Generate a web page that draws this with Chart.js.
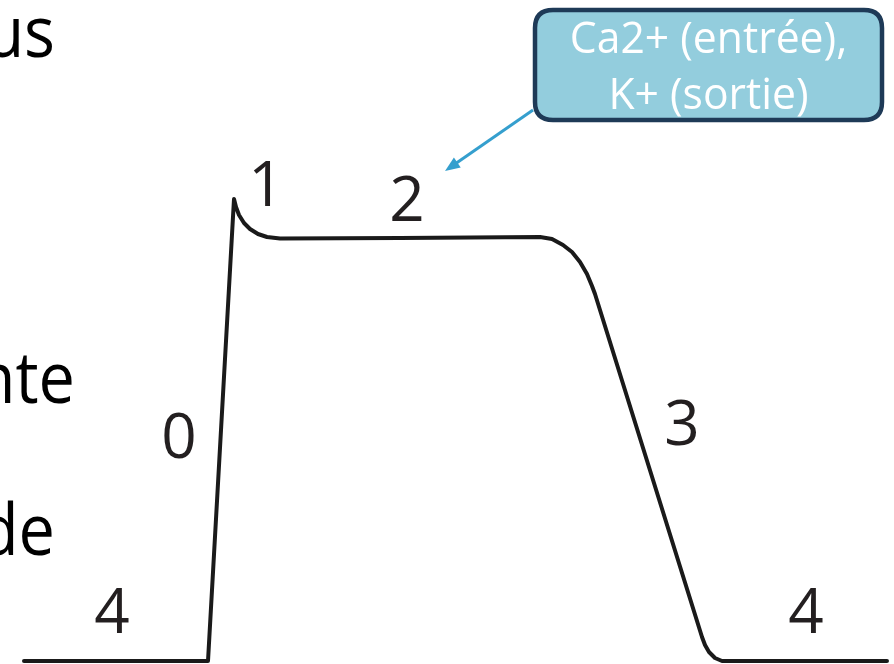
<!DOCTYPE html>
<html>
<head>
<meta charset="utf-8">
<script src="https://cdn.jsdelivr.net/npm/chart.js@4.4.1/dist/chart.umd.min.js"></script>
<style>
  html, body { margin: 0; padding: 0; background: #fff; }
  #wrap { width: 894px; height: 664px; position: relative; }
</style>
</head>
<body>
<div id="wrap"><canvas id="apChart" width="894" height="664"></canvas></div>
<script>
// potentiel d'action cardiaque (schéma) : temps en ms, potentiel en mV
const times = [-92, 0, 13, 14, 15.5, 18, 21, 25, 29.5, 36, 96, 166, 172, 177.5, 182, 186, 189.5, 192, 193.5, 247, 248.5, 250.5, 253.5, 257, 339.5];
const potentials = [-90, -90, 25.5, 23.5, 21.5, 19.5, 18, 16.75, 16, 15.6, 15.75, 16, 15.5, 14, 12.25, 9.75, 6.75, 3.75, 1.75, -84, -86, -87.75, -89.25, -90, -90];

const phaseNames = ['4', '0', '1', '2', '3', '4'];
const calloutLines = ['Ca2+ (entrée),', 'K+ (sortie)'];
const slideFragments = ['us', 'nte', 'de'];

// placement of the annotations (data units for phases, pixels for slide text/box)
const phaseAnchors = [
    { t: -48, v: -77.75 },
    { t: -14.5, v: -34 },
    { t: 29, v: 29 },
    { t: 99.5, v: 25.25 },
    { t: 237, v: -30.75 },
    { t: 299, v: -77.75 }
];
const fragmentPos = [
    { right: 55, base: 57 },
    { right: 75, base: 403 },
    { right: 55, base: 555 }
];
const calloutBox = { x: 535, y: 10, w: 347, h: 110, r: 18 };
const arrowTip = { t: 118.5, v: 32.5 };

function roundRect(ctx, x, y, w, h, r) {
    ctx.beginPath();
    ctx.moveTo(x + r, y);
    ctx.lineTo(x + w - r, y);
    ctx.quadraticCurveTo(x + w, y, x + w, y + r);
    ctx.lineTo(x + w, y + h - r);
    ctx.quadraticCurveTo(x + w, y + h, x + w - r, y + h);
    ctx.lineTo(x + r, y + h);
    ctx.quadraticCurveTo(x, y + h, x, y + h - r);
    ctx.lineTo(x, y + r);
    ctx.quadraticCurveTo(x, y, x + r, y);
    ctx.closePath();
}

const diagramText = {
    id: 'diagramText',
    afterDatasetsDraw(chart) {
        const ctx = chart.ctx;
        const xs = chart.scales.x;
        const ys = chart.scales.y;
        ctx.save();

        // bits of the slide text cut by the left edge
        ctx.fillStyle = '#000';
        ctx.font = '72px "Open Sans", "Noto Sans", sans-serif';
        ctx.textAlign = 'right';
        ctx.textBaseline = 'alphabetic';
        slideFragments.forEach((s, i) => {
            const p = fragmentPos[i];
            ctx.save();
            ctx.translate(p.right, p.base);
            ctx.scale(0.9, 1);
            ctx.fillText(s, 0, 0);
            ctx.restore();
        });

        // phase numbers
        ctx.fillStyle = '#231f20';
        ctx.font = '62px "Open Sans", "Noto Sans", sans-serif';
        ctx.textAlign = 'center';
        ctx.textBaseline = 'middle';
        phaseNames.forEach((n, i) => {
            const a = phaseAnchors[i];
            ctx.fillText(n, xs.getPixelForValue(a.t), ys.getPixelForValue(a.v) + 3);
        });

        // arrow from the callout to phase 2
        const tx = xs.getPixelForValue(arrowTip.t);
        const ty = ys.getPixelForValue(arrowTip.v);
        const sx = calloutBox.x - 2;
        const sy = calloutBox.y + calloutBox.h - 10;
        const ang = Math.atan2(ty - sy, tx - sx);
        ctx.strokeStyle = '#359fce';
        ctx.fillStyle = '#359fce';
        ctx.lineWidth = 3;
        ctx.beginPath();
        ctx.moveTo(sx, sy);
        ctx.lineTo(tx - 10 * Math.cos(ang), ty - 10 * Math.sin(ang));
        ctx.stroke();
        ctx.beginPath();
        ctx.moveTo(tx, ty);
        ctx.lineTo(tx - 15 * Math.cos(ang) + 6 * Math.sin(ang), ty - 15 * Math.sin(ang) - 6 * Math.cos(ang));
        ctx.lineTo(tx - 15 * Math.cos(ang) - 6 * Math.sin(ang), ty - 15 * Math.sin(ang) + 6 * Math.cos(ang));
        ctx.closePath();
        ctx.fill();

        // callout box
        const b = calloutBox;
        roundRect(ctx, b.x, b.y, b.w, b.h, b.r);
        ctx.fillStyle = '#93cddd';
        ctx.fill();
        ctx.lineWidth = 4.5;
        ctx.strokeStyle = '#1e3a57';
        ctx.stroke();

        ctx.fillStyle = '#ffffff';
        ctx.font = '44px "Open Sans", "Noto Sans", sans-serif';
        ctx.textAlign = 'center';
        ctx.textBaseline = 'alphabetic';
        calloutLines.forEach((line, i) => {
            ctx.save();
            ctx.translate(b.x + b.w / 2, b.y + 43 + i * 56);
            ctx.scale(0.97, 1);
            ctx.fillText(line, 0, 0);
            ctx.restore();
        });

        ctx.restore();
    }
};

const ctx = document.getElementById('apChart').getContext('2d');
const apChart = new Chart(ctx, {
    type: 'line',
    data: {
        datasets: [{
            label: 'Potentiel',
            data: times.map((t, i) => ({ x: t, y: potentials[i] })),
            borderColor: '#1a1a1a',
            borderWidth: 4,
            borderJoinStyle: 'round',
            borderCapStyle: 'round',
            pointRadius: 0,
            tension: 0,
            fill: false
        }]
    },
    options: {
        responsive: false,
        animation: false,
        layout: { padding: 0 },
        plugins: {
            legend: { display: false },
            tooltip: { enabled: false }
        },
        scales: {
            x: { type: 'linear', min: -104, max: 343, display: false },
            y: { type: 'linear', min: -90.75, max: 75.25, display: false }
        }
    },
    plugins: [diagramText]
});
</script>
</body>
</html>
